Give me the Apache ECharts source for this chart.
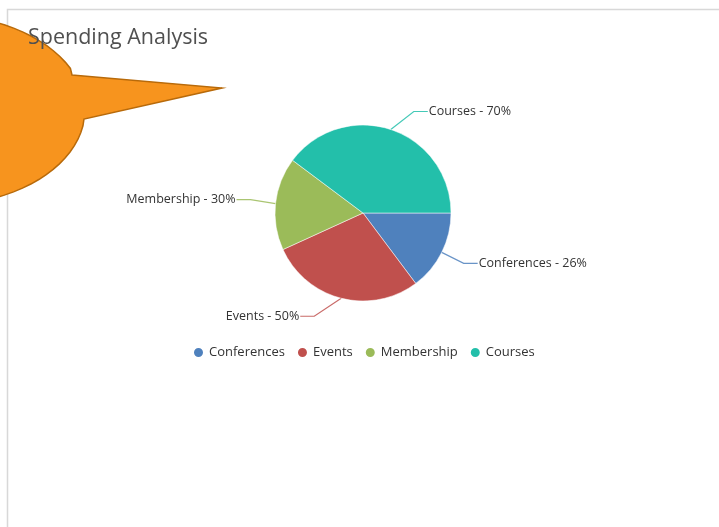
<!DOCTYPE html>
<html><head><meta charset="utf-8">
<script src="https://cdn.jsdelivr.net/npm/echarts@6/dist/echarts.min.js"></script>
<style>html,body{margin:0;padding:0;background:#fff}#c{width:719px;height:527px}</style>
</head><body><div id="c"></div>
<script>
var categories = ['Conferences', 'Events', 'Membership', 'Courses'];
var values = [26, 50, 30, 70];
var colors = ['#4f81bd', '#c0504d', '#9bbb59', '#23bfaa'];
var titleText = 'Spending Analysis';

// label connector knee offsets (layout only)
var kneeOff = [[22, 11], [-27, 18], [-25, -4], [23, -18]];

// decorative callout bubble outline (ellipse + tail)
var bubble = [[72, 75], [222, 88], [84, 119]];
(function () {
  var cx = -60, cy = 110, rx = 145, ry = 95;
  var t0 = 0.095, t1 = 2 * Math.PI - 0.38;
  for (var k = 1; k < 80; k++) {
    var t = t0 + (t1 - t0) * k / 80;
    bubble.push([cx + rx * Math.cos(t), cy + ry * Math.sin(t)]);
  }
})();

var chart = echarts.init(document.getElementById('c'), null, {renderer: 'canvas'});
var data = categories.map(function (n, i) { return {name: n, value: values[i], itemStyle: {color: colors[i]}}; });
chart.setOption({
  animation: false,
  color: colors,
  title: {
    text: titleText, left: 23, top: 22, z: 10,
    textStyle: {fontFamily: 'Open Sans', fontSize: 21.5, fontWeight: 'normal', color: '#505050'}
  },
  legend: {
    data: categories, top: 341, left: 187, icon: 'circle',
    itemWidth: 11, itemHeight: 11, itemGap: 11,
    textStyle: {fontFamily: 'Open Sans', fontSize: 13, color: '#333'}
  },
  graphic: [
    {type: 'rect', z: -1, shape: {x: 7.5, y: 9.5, width: 800, height: 600},
     style: {fill: 'none', stroke: '#d8d8d8', lineWidth: 1.5}},
    {type: 'polygon', z: 1, shape: {points: bubble},
     style: {fill: '#f7941e', stroke: '#b86a0a', lineWidth: 1.5}}
  ],
  series: [{
    type: 'pie', center: [363, 213], radius: 88, startAngle: 0, clockwise: true,
    data: data,
    itemStyle: {borderColor: '#fff', borderWidth: 0.5},
    label: {formatter: '{b} - {c}%', fontFamily: 'Open Sans', fontSize: 12.5, color: '#333'},
    labelLine: {length: 18, length2: 14, lineStyle: {width: 1.2, opacity: 0.85}},
    labelLayout: function (p) {
      var i = p.dataIndex;
      var e = p.labelLinePoints[0];
      var k = [e[0] + kneeOff[i][0], e[1] + kneeOff[i][1]];
      var s = kneeOff[i][0] > 0 ? 1 : -1;
      var end = [k[0] + s * 14, k[1]];
      return {x: end[0] + s, y: end[1], align: s > 0 ? 'left' : 'right', verticalAlign: 'middle',
              labelLinePoints: [e, k, end]};
    }
  }]
});
</script></body></html>
